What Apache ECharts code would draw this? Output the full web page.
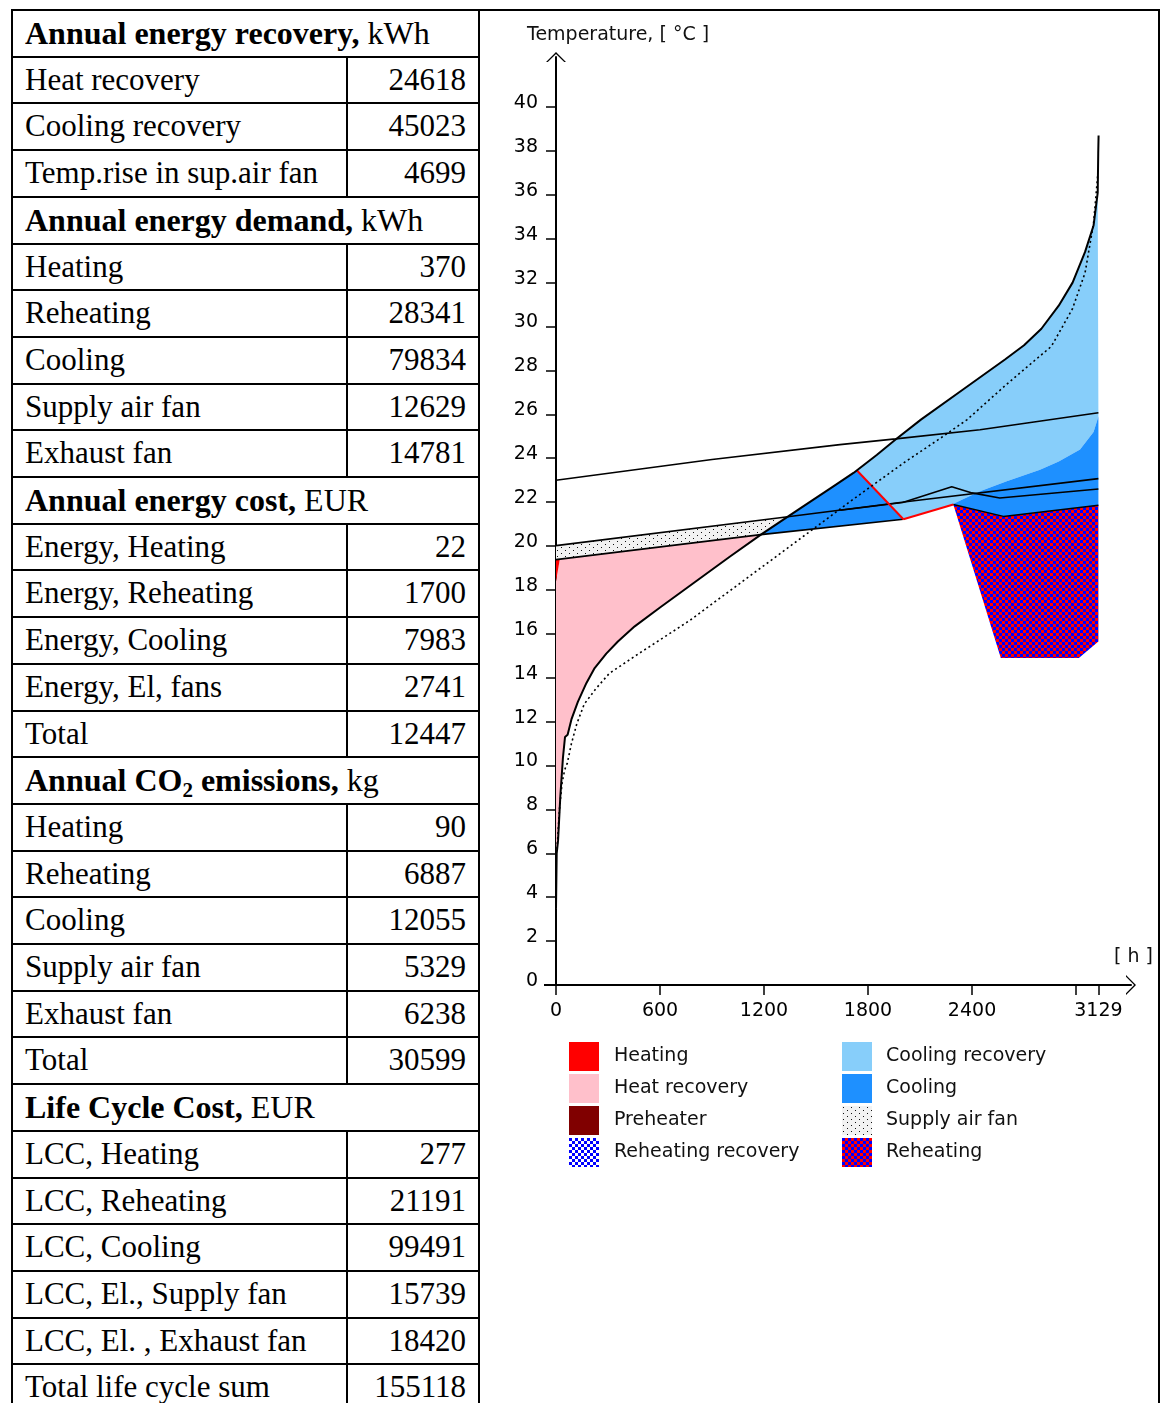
<!DOCTYPE html>
<html><head><meta charset="utf-8">
<script src="https://cdn.jsdelivr.net/npm/echarts@6/dist/echarts.min.js"></script>
<style>
html,body{margin:0;padding:0;width:1165px;height:1403px;overflow:hidden;background:#fff;}
#chart{position:absolute;left:0;top:0;width:1165px;height:1403px;}
#table{position:absolute;left:11px;top:9px;width:469px;height:1420px;}
.row{position:absolute;left:0;width:469px;box-sizing:border-box;border:2px solid #000;font-family:"Liberation Serif","Times New Roman",serif;font-size:31px;color:#000;background:#fff;}
.lab{position:absolute;left:12px;top:0;line-height:44px;white-space:nowrap;}
.val{position:absolute;right:12px;top:0;line-height:44px;white-space:nowrap;}
.sep{position:absolute;left:333px;top:0;bottom:0;border-left:2px solid #000;}
.hd .lab{font-size:32px;}
.hd b{font-weight:bold;}
sub{font-size:21px;line-height:0;vertical-align:-6px;}
#frame{position:absolute;left:478px;top:9px;width:682px;height:1400px;box-sizing:border-box;border-top:2px solid #000;border-right:2px solid #000;border-left:2px solid #000;pointer-events:none;}
</style></head>
<body>
<div id="chart"></div>
<div id="frame"></div>
<div id="table"></div>
<script>
// ---------- table data ----------
const recoveryHeader = ['Annual energy recovery,', ' kWh'];
const recoveryRows = [['Heat recovery', 24618], ['Cooling recovery', 45023], ['Temp.rise in sup.air fan', 4699]];
const demandHeader = ['Annual energy demand,', ' kWh'];
const demandRows = [['Heating', 370], ['Reheating', 28341], ['Cooling', 79834], ['Supply air fan', 12629], ['Exhaust fan', 14781]];
const costHeader = ['Annual energy cost,', ' EUR'];
const costRows = [['Energy, Heating', 22], ['Energy, Reheating', 1700], ['Energy, Cooling', 7983], ['Energy, El, fans', 2741], ['Total', 12447]];
const co2Header = ['Annual CO<sub>2</sub> emissions,', ' kg'];
const co2Rows = [['Heating', 90], ['Reheating', 6887], ['Cooling', 12055], ['Supply air fan', 5329], ['Exhaust fan', 6238], ['Total', 30599]];
const lccHeader = ['Life Cycle Cost,', ' EUR'];
const lccRows = [['LCC, Heating', 277], ['LCC, Reheating', 21191], ['LCC, Cooling', 99491], ['LCC, El., Supply fan', 15739], ['LCC, El. , Exhaust fan', 18420], ['Total life cycle sum', 155118]];

// ---------- chart data (hours, °C) ----------
const xTickValues = [0, 600, 1200, 1800, 2400, 3000, 3129];
const xLabelValues = [0, 600, 1200, 1800, 2400, 3129];
const yTickValues = [0, 2, 4, 6, 8, 10, 12, 14, 16, 18, 20, 22, 24, 26, 28, 30, 32, 34, 36, 38, 40];

const outdoorTemp = [[0,3.5],[3,3.5],[4,6.0],[12,6.6],[25,8.6],[40,10.35],[52,11.3],[67,11.4],[89,12.1],[126,12.9],[175,13.75],[223,14.44],[290,15.1],[357,15.65],[454,16.34],[600,17.2],[800,18.35],[1000,19.5],[1182,20.52],[1400,21.67],[1600,22.72],[1716,23.33],[1850,24.15],[1959,24.85],[2105,25.76],[2348,27.13],[2590,28.5],[2700,29.15],[2800,29.9],[2900,30.95],[2980,32.0],[3052,33.4],[3101,34.6],[3125,36.1],[3128,37.9],[3130,38.7]];
const dottedCurve = [[6,6.2],[20,8.0],[35,9.2],[50,9.8],[65,10.1],[89,11.0],[120,11.9],[163,12.8],[230,13.5],[308,14.2],[478,15.1],[770,16.6],[1061,18.3],[1352,20.0],[1692,22.0],[2008,23.8],[2234,25.0],[2372,25.76],[2590,27.3],[2858,29.1],[2979,30.8],[3052,32.45],[3101,34.7],[3125,36.9]];
const roomAirLine = [[0,23.0],[900,23.94],[1638,24.62],[1959,24.88],[2446,25.3],[3129,26.07]];
const supplyAfterFan = [[0,20.02],[1280,21.28],[2042,22.04],[3129,23.07]];
const supplySetpoint = [[0,19.38],[1182,20.52],[2004,21.22]];
const peakLine = [[1640,21.63],[2000,21.98],[2283,22.7],[2400,22.42],[2560,22.19],[3129,22.6]];
const heatingEdge = [[0,18.4],[0,19.38],[22,19.4]];
const diagonal = [[1735,23.45],[2004,21.22]];
const recoveryBottom = [[2004,21.22],[2292,21.89]];
const coolingBandTop = [[2292,21.93],[2446,22.5],[2600,22.95],[2792,23.48],[2900,23.85],[3023,24.4],[3101,25.2],[3129,25.9]];
const reheatTop = [[2292,21.89],[2581,21.35],[3129,21.86]];
const reheatBottom = [[2292,21.89],[2566,14.9],[3016,14.9],[3129,15.65]];

// ---------- table build ----------
(function(){
  const t = document.getElementById('table');
  const rowH = 46.7;
  let i = 0;
  function place(d){
    const y0 = Math.round(i*rowH), y1 = Math.round((i+1)*rowH);
    d.style.top = y0+'px'; d.style.height = (y1-y0+2)+'px';
  }
  function header(h){
    const d = document.createElement('div'); d.className = 'row hd'; place(d);
    d.innerHTML = '<span class="lab"><b>'+h[0]+'</b>'+h[1]+'</span>';
    t.appendChild(d); i++;
  }
  function rows(rs){
    rs.forEach(r=>{
      const d = document.createElement('div'); d.className = 'row'; place(d);
      d.innerHTML = '<span class="lab">'+r[0]+'</span><span class="sep"></span><span class="val">'+r[1]+'</span>';
      t.appendChild(d); i++;
    });
  }
  header(recoveryHeader); rows(recoveryRows);
  header(demandHeader); rows(demandRows);
  header(costHeader); rows(costRows);
  header(co2Header); rows(co2Rows);
  header(lccHeader); rows(lccRows);
})();

// ---------- geometry helpers ----------
function interp(arr, h){
  if (h <= arr[0][0]) return arr[0][1];
  for (let k = 0; k < arr.length-1; k++){
    const a = arr[k], b = arr[k+1];
    if (h >= a[0] && h <= b[0]){
      if (b[0] === a[0]) return b[1];
      return a[1] + (b[1]-a[1])*(h-a[0])/(b[0]-a[0]);
    }
  }
  return arr[arr.length-1][1];
}
function segment(arr, h0, h1){
  const out = [[h0, interp(arr,h0)]];
  arr.forEach(p=>{ if (p[0] > h0 && p[0] < h1) out.push(p); });
  out.push([h1, interp(arr,h1)]);
  return out;
}
function crossing(a, b, lo, hi){
  let prev = interp(a,lo) - interp(b,lo);
  for (let h = lo+1; h <= hi; h++){
    const d = interp(a,h) - interp(b,h);
    if ((prev <= 0 && d > 0) || (prev >= 0 && d < 0)) return h;
    prev = d;
  }
  return hi;
}
const fanX = crossing(outdoorTemp, supplyAfterFan, 1183, 1700);

const pinkPoly = segment(outdoorTemp, 0, 1182).concat(segment(supplySetpoint, 22, 1182).reverse(), [heatingEdge[0]]);
const fanPoly = segment(supplyAfterFan, 0, fanX).concat(segment(outdoorTemp, 1182, fanX).reverse(), segment(supplySetpoint, 0, 1182).reverse());
const coolTri = segment(outdoorTemp, 1182, diagonal[0][0]).concat([diagonal[1]], segment(supplySetpoint, 1182, diagonal[1][0]).reverse());
const recovPoly = segment(outdoorTemp, diagonal[0][0], 3125).concat(coolingBandTop.slice().reverse(), recoveryBottom.slice().reverse(), diagonal.slice().reverse());
const coolBand = coolingBandTop.concat(reheatTop.slice().reverse());
const reheatPoly = reheatTop.concat(reheatBottom.slice().reverse());

// ---------- patterns ----------
function checker(c1, c2, s){
  const cv = document.createElement('canvas'); cv.width = cv.height = 2*s;
  const g = cv.getContext('2d');
  g.fillStyle = c1; g.fillRect(0,0,2*s,2*s);
  g.fillStyle = c2; g.fillRect(0,0,s,s); g.fillRect(s,s,s,s);
  return {image: cv, repeat: 'repeat'};
}
function dots(){
  const cv = document.createElement('canvas'); cv.width = 8; cv.height = 6;
  const g = cv.getContext('2d');
  g.fillStyle = '#f2f2f2'; g.fillRect(0,0,8,6);
  g.fillStyle = '#111'; g.fillRect(1,1,1,1); g.fillRect(5,4,1,1);
  return {image: cv, repeat: 'repeat'};
}
const C_HEAT = '#ff0000', C_HREC = '#ffc0cb', C_PRE = '#800000', C_CREC = '#87cefa', C_COOL = '#1e90ff';
const P_FAN = dots(), P_REHEAT = checker('#ff0000', '#0000ff', 3), P_RREC = checker('#ffffff', '#0000ff', 3);

function polySeries(name, pts, fill){
  return {
    type: 'custom', name: name, coordinateSystem: 'cartesian2d', z: 2, silent: true,
    itemStyle: {color: fill},
    encode: {x: 0, y: 1},
    data: pts,
    renderItem: function(params, api){
      if (params.dataIndex !== 0) return {type: 'group', children: []};
      return {type: 'polygon', shape: {points: pts.map(p => api.coord(p))}, style: {fill: fill, stroke: null}};
    }
  };
}
function lineSeries(data, color, width, type){
  return {type: 'line', data: data, symbol: 'none', silent: true, z: 3,
    lineStyle: {color: color, width: width, type: type || 'solid'}};
}

const arrowPath = 'path://M0,10 L10,0 L20,10 L18.2,10 L10,1.9 L1.8,10 Z';
const FONT = '"DejaVu Sans", Verdana, sans-serif';

const chart = echarts.init(document.getElementById('chart'), null, {renderer: 'canvas'});
chart.setOption({
  animation: false,
  backgroundColor: '#fff',
  grid: {left: 556, top: 57, width: 575, height: 928, containLabel: false, outerBoundsMode: 'none'},
  xAxis: {
    type: 'value', min: 0, max: 3317,
    axisLine: {show: true, lineStyle: {color: '#000', width: 2}, symbol: ['none', arrowPath], symbolSize: [20, 11]},
    axisTick: {show: true, length: 10, lineStyle: {color: '#000', width: 1.5}, customValues: xTickValues},
    axisLabel: {show: true, margin: 17, color: '#000', fontSize: 19, fontFamily: FONT, customValues: xLabelValues,
      formatter: function(v){ return String(v); }},
    splitLine: {show: false}
  },
  yAxis: {
    type: 'value', min: 0, max: 42.28,
    axisLine: {show: true, lineStyle: {color: '#000', width: 2}, symbol: ['none', arrowPath], symbolSize: [20, 11]},
    axisTick: {show: true, length: 10, lineStyle: {color: '#000', width: 1.5}, customValues: yTickValues},
    axisLabel: {show: true, margin: 18, color: '#000', fontSize: 19, fontFamily: FONT, verticalAlign: 'bottom', lineHeight: 8, customValues: yTickValues,
      formatter: function(v){ return String(v); }},
    splitLine: {show: false}
  },
  legend: [
    {left: 569, top: 1042, orient: 'vertical', icon: 'rect', itemWidth: 30, itemHeight: 29, itemGap: 3, padding: 0, selectedMode: false,
     textStyle: {fontFamily: FONT, fontSize: 19, color: '#111', padding: [4,0,0,10]},
     data: ['Heating', 'Heat recovery', 'Preheater', 'Reheating recovery']},
    {left: 842, top: 1042, orient: 'vertical', icon: 'rect', itemWidth: 30, itemHeight: 29, itemGap: 3, padding: 0, selectedMode: false,
     textStyle: {fontFamily: FONT, fontSize: 19, color: '#111', padding: [4,0,0,9]},
     data: ['Cooling recovery', 'Cooling', 'Supply air fan', 'Reheating']}
  ],
  graphic: [
    {type: 'text', left: 527, top: 26, style: {text: 'Temperature, [ °C ]', font: '19px ' + FONT, fill: '#111'}},
    {type: 'text', left: 1114, top: 948, style: {text: '[ h ]', font: '19px ' + FONT, fill: '#111'}},
    {type: 'line', shape: {x1: 544, y1: 985, x2: 556, y2: 985}, style: {stroke: '#000', lineWidth: 2}}
  ],
  series: [
    polySeries('Heat recovery', pinkPoly, C_HREC),
    polySeries('Heating', heatingEdge, C_HEAT),
    polySeries('Supply air fan', fanPoly, P_FAN),
    polySeries('Cooling', coolTri, C_COOL),
    polySeries('Cooling recovery', recovPoly, C_CREC),
    polySeries('Cooling', coolBand, C_COOL),
    polySeries('Reheating', reheatPoly, P_REHEAT),
    polySeries('Preheater', [], C_PRE),
    polySeries('Reheating recovery', [], P_RREC),
    lineSeries(roomAirLine, '#000', 1.6),
    lineSeries(supplyAfterFan, '#000', 1.6),
    lineSeries(supplySetpoint, '#000', 1.6),
    lineSeries(peakLine, '#000', 1.6),
    lineSeries(reheatTop, '#000', 1.5),
    lineSeries(diagonal, '#ff0000', 2),
    lineSeries(recoveryBottom, '#ff0000', 2),
    lineSeries(dottedCurve, '#000', 1.6, [2, 3]),
    lineSeries(outdoorTemp, '#000', 2)
  ]
});
</script>
</body></html>
